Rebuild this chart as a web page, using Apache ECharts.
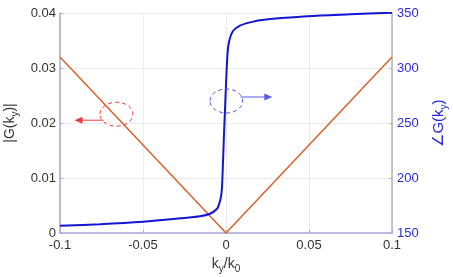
<!DOCTYPE html>
<html><head><meta charset="utf-8">
<script src="https://cdn.jsdelivr.net/npm/echarts@6/dist/echarts.min.js"></script>
<style>html,body{margin:0;padding:0;background:#fff}#c{width:453px;height:277px}</style>
</head><body><div id="c"></div>
<script>
// Data
const magX = [-0.1, 0, 0.1];
const magY = [0.032, 0, 0.032];
const phaseX = [-0.1, -0.0759, -0.05, -0.0277, -0.0157, -0.0096, -0.0054, -0.0042, -0.003, -0.0024, -0.0018, -0.0012, -0.0006, 0, 0.0006, 0.0012, 0.002, 0.003, 0.0044, 0.0084, 0.0145, 0.0205, 0.049, 0.075, 0.1];
const phaseY = [156.5, 158, 160.3, 163.3, 165.2, 167.5, 172, 176, 183, 192, 215, 240, 262, 285, 305, 318, 325, 330, 334, 338.5, 341.5, 343.5, 347, 348.8, 350.3];
const xTicks = [-0.1, -0.05, 0, 0.05, 0.1];
const leftTicks = [0, 0.01, 0.02, 0.03, 0.04];
const rightTicks = [150, 200, 250, 300, 350];
// annotation anchors (data coordinates)
const leftMarker = [-0.066, 0.0216];
const rightMarker = [0.0002, 270];

const chart = echarts.init(document.getElementById('c'), null, {renderer: 'canvas'});
const font = 'Liberation Sans, Arial, sans-serif';
const sub = {fontSize: 10, padding: [10, 0, 0, 0], fontFamily: font};
chart.setOption({
  animation: false,
  grid: {left: 60, right: 61, top: 13, bottom: 44, containLabel: false, outerBoundsMode: 'none'},
  xAxis: {
    type: 'value', min: xTicks[0], max: xTicks[xTicks.length - 1], interval: 0.05,
    axisLine: {onZero: false, lineStyle: {color: '#a8a8d8', width: 1.5}},
    axisTick: {show: true, inside: true, length: 3, lineStyle: {color: '#a8a8d8'}},
    splitLine: {show: true, lineStyle: {color: '#ececf0', width: 1}},
    axisLabel: {color: '#333', fontSize: 13, fontFamily: font, margin: 6},
    name: '{n|k}{s|y}{n|/k}{s|0}', nameLocation: 'middle', nameGap: 20,
    nameTextStyle: {rich: {n: {fontSize: 14, color: '#333', fontFamily: font}, s: Object.assign({color: '#333'}, sub)}}
  },
  yAxis: [{
    type: 'value', min: leftTicks[0], max: leftTicks[leftTicks.length - 1], interval: 0.01,
    axisLine: {show: true, onZero: false, lineStyle: {color: '#a8a8d8', width: 1.5}},
    axisTick: {show: true, inside: true, length: 3, lineStyle: {color: '#a8a8d8'}},
    splitLine: {show: true, lineStyle: {color: '#ececf0', width: 1}},
    axisLabel: {color: '#333', fontSize: 13, fontFamily: font, margin: 4},
    name: '{n||G(k}{s|y}{n|)|}', nameLocation: 'middle', nameGap: 32, nameRotate: 90,
    nameTextStyle: {rich: {n: {fontSize: 14, color: '#333', fontFamily: font}, s: Object.assign({color: '#333'}, sub)}}
  }, {
    type: 'value', min: rightTicks[0], max: rightTicks[rightTicks.length - 1], interval: 50,
    position: 'right',
    axisLine: {show: true, onZero: false, lineStyle: {color: '#b4b4b4', width: 1.5}},
    axisTick: {show: true, inside: true, length: 3, lineStyle: {color: '#b4b4b4'}},
    splitLine: {show: false},
    axisLabel: {color: '#2a2ad8', fontSize: 13, fontFamily: font, margin: 5},
    name: '{n|\u2220G(k}{s|y}{n|)}', nameLocation: 'middle', nameGap: 37, nameRotate: 90,
    nameTextStyle: {rich: {n: {fontSize: 15, color: '#2a2ad8', fontFamily: font}, s: Object.assign({color: '#2a2ad8'}, sub)}}
  }],
  series: [{
    type: 'line', yAxisIndex: 0, symbol: 'none',
    data: magX.map((x, i) => [x, magY[i]]),
    lineStyle: {color: '#d9622b', width: 1.5}, z: 2
  }, {
    type: 'line', yAxisIndex: 1, symbol: 'none', smooth: 0.3,
    data: phaseX.map((x, i) => [x, phaseY[i]]),
    lineStyle: {color: '#1414d6', width: 2}, z: 3
  }]
});

const pL = chart.convertToPixel({xAxisIndex: 0, yAxisIndex: 0}, leftMarker);
const pR = chart.convertToPixel({xAxisIndex: 0, yAxisIndex: 1}, rightMarker);
const red = '#ee3b3b', blue = '#5a5ae6';
function arrow(x1, y, x2, color) {
  const dir = Math.sign(x2 - x1);
  return [
    {type: 'line', shape: {x1: x1, y1: y, x2: x2 - dir * 7, y2: y}, style: {stroke: color, lineWidth: 1}, z: 10},
    {type: 'polygon', shape: {points: [[x2, y], [x2 - dir * 8, y - 3.5], [x2 - dir * 8, y + 3.5]]}, style: {fill: color}, z: 10}
  ];
}
chart.setOption({graphic: [
  {type: 'ellipse', shape: {cx: pL[0], cy: pL[1], rx: 16.5, ry: 12}, style: {fill: null, stroke: red, lineWidth: 1, lineDash: [4, 3]}, z: 10},
  ...arrow(pL[0] - 13, pL[1] + 6, pL[0] - 42, red),
  {type: 'ellipse', shape: {cx: pR[0], cy: pR[1], rx: 16.3, ry: 12}, style: {fill: null, stroke: blue, lineWidth: 1, lineDash: [4, 3]}, z: 10},
  ...arrow(pR[0] + 14, pR[1] - 4, pR[0] + 46, blue)
]});
</script></body></html>
